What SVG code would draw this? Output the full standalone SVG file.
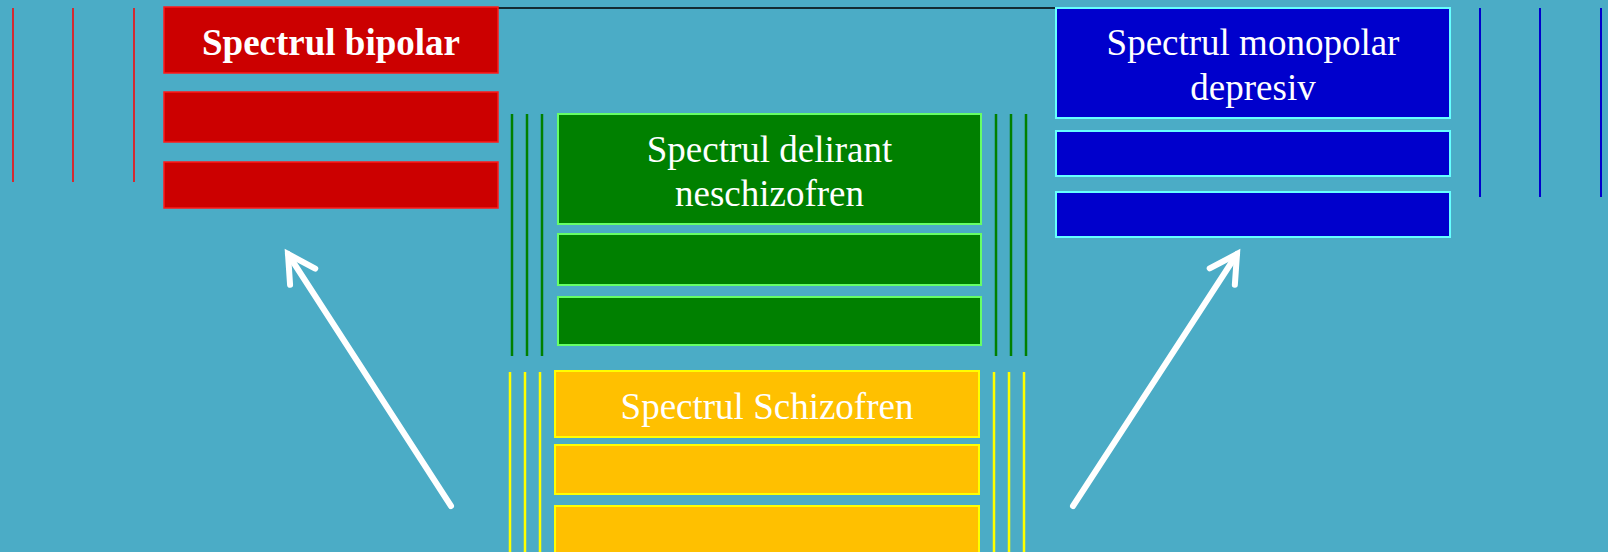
<svg xmlns="http://www.w3.org/2000/svg" width="1608" height="552" viewBox="0 0 1608 552">
<style>
.red{fill:#CC0000;stroke:#FF1A1A;stroke-width:1.5}
.blue{fill:#0000CC;stroke:#66FFFF;stroke-width:2}
.green{fill:#008000;stroke:#66FF66;stroke-width:2}
.yel{fill:#FFC000;stroke:#FFFF00;stroke-width:2}
.lr{stroke:#FF0000;stroke-width:1.5}
.lb{stroke:#0000CC;stroke-width:2}
.lg{stroke:#008000;stroke-width:2.5}
.ly{stroke:#FFFF00;stroke-width:2.5}
.t{font-family:"Liberation Serif","Times New Roman",serif;font-size:37px;fill:#FFFFFF;text-anchor:middle}
.b{font-weight:bold}
.arrow{fill:none;stroke:#FFFFFF;stroke-width:6;stroke-linecap:round}
</style>
<defs>
<marker id="head" markerUnits="userSpaceOnUse" markerWidth="60" markerHeight="60" refX="0" refY="0" orient="auto" overflow="visible">
<path d="M -27 -15 L 0 0 L -27 15" fill="none" stroke="#FFFFFF" stroke-width="6" stroke-linecap="round" stroke-linejoin="miter"/>
</marker>
</defs>
<rect x="0" y="0" width="1608" height="552" fill="#4BACC6"/>
<line x1="498" y1="8" x2="1056" y2="8" stroke="#000000" stroke-width="1.5"/>
<g id="decor-lines">
<line class="lr" x1="13" y1="8" x2="13" y2="182"/>
<line class="lr" x1="73" y1="8" x2="73" y2="182"/>
<line class="lr" x1="134" y1="8" x2="134" y2="182"/>
<line class="lb" x1="1480" y1="8" x2="1480" y2="197"/>
<line class="lb" x1="1540" y1="8" x2="1540" y2="197"/>
<line class="lb" x1="1601" y1="8" x2="1601" y2="197"/>
<line class="lg" x1="512" y1="114" x2="512" y2="356"/>
<line class="lg" x1="527" y1="114" x2="527" y2="356"/>
<line class="lg" x1="542" y1="114" x2="542" y2="356"/>
<line class="lg" x1="996" y1="114" x2="996" y2="356"/>
<line class="lg" x1="1011" y1="114" x2="1011" y2="356"/>
<line class="lg" x1="1026" y1="114" x2="1026" y2="356"/>
<line class="ly" x1="510" y1="372" x2="510" y2="552"/>
<line class="ly" x1="525" y1="372" x2="525" y2="552"/>
<line class="ly" x1="540" y1="372" x2="540" y2="552"/>
<line class="ly" x1="994" y1="372" x2="994" y2="552"/>
<line class="ly" x1="1009" y1="372" x2="1009" y2="552"/>
<line class="ly" x1="1024" y1="372" x2="1024" y2="552"/>
</g>
<g id="bipolar">
<rect class="red" x="164" y="7" width="334" height="66"/>
<text class="t b" x="331" y="55">Spectrul bipolar</text>
<rect class="red" x="164" y="92" width="334" height="50"/>
<rect class="red" x="164" y="162" width="334" height="46"/>
</g>
<g id="monopolar">
<rect class="blue" x="1056" y="8" width="394" height="110"/>
<text class="t" x="1253" y="55">Spectrul monopolar</text>
<text class="t" x="1253" y="99.5">depresiv</text>
<rect class="blue" x="1056" y="131" width="394" height="45"/>
<rect class="blue" x="1056" y="192" width="394" height="45"/>
</g>
<g id="delirant">
<rect class="green" x="558" y="114" width="423" height="110"/>
<text class="t" x="769.5" y="161.5">Spectrul delirant</text>
<text class="t" x="769.5" y="206">neschizofren</text>
<rect class="green" x="558" y="234" width="423" height="51"/>
<rect class="green" x="558" y="297" width="423" height="48"/>
</g>
<g id="schizofren">
<rect class="yel" x="555" y="371" width="424" height="66"/>
<text class="t" x="767" y="419">Spectrul Schizofren</text>
<rect class="yel" x="555" y="445" width="424" height="49"/>
<rect class="yel" x="555" y="506" width="424" height="50"/>
</g>
<g id="connectors">
<line class="arrow" x1="451" y1="506" x2="288" y2="254" marker-end="url(#head)"/>
<line class="arrow" x1="1073" y1="506" x2="1237" y2="254" marker-end="url(#head)"/>
</g>
</svg>
